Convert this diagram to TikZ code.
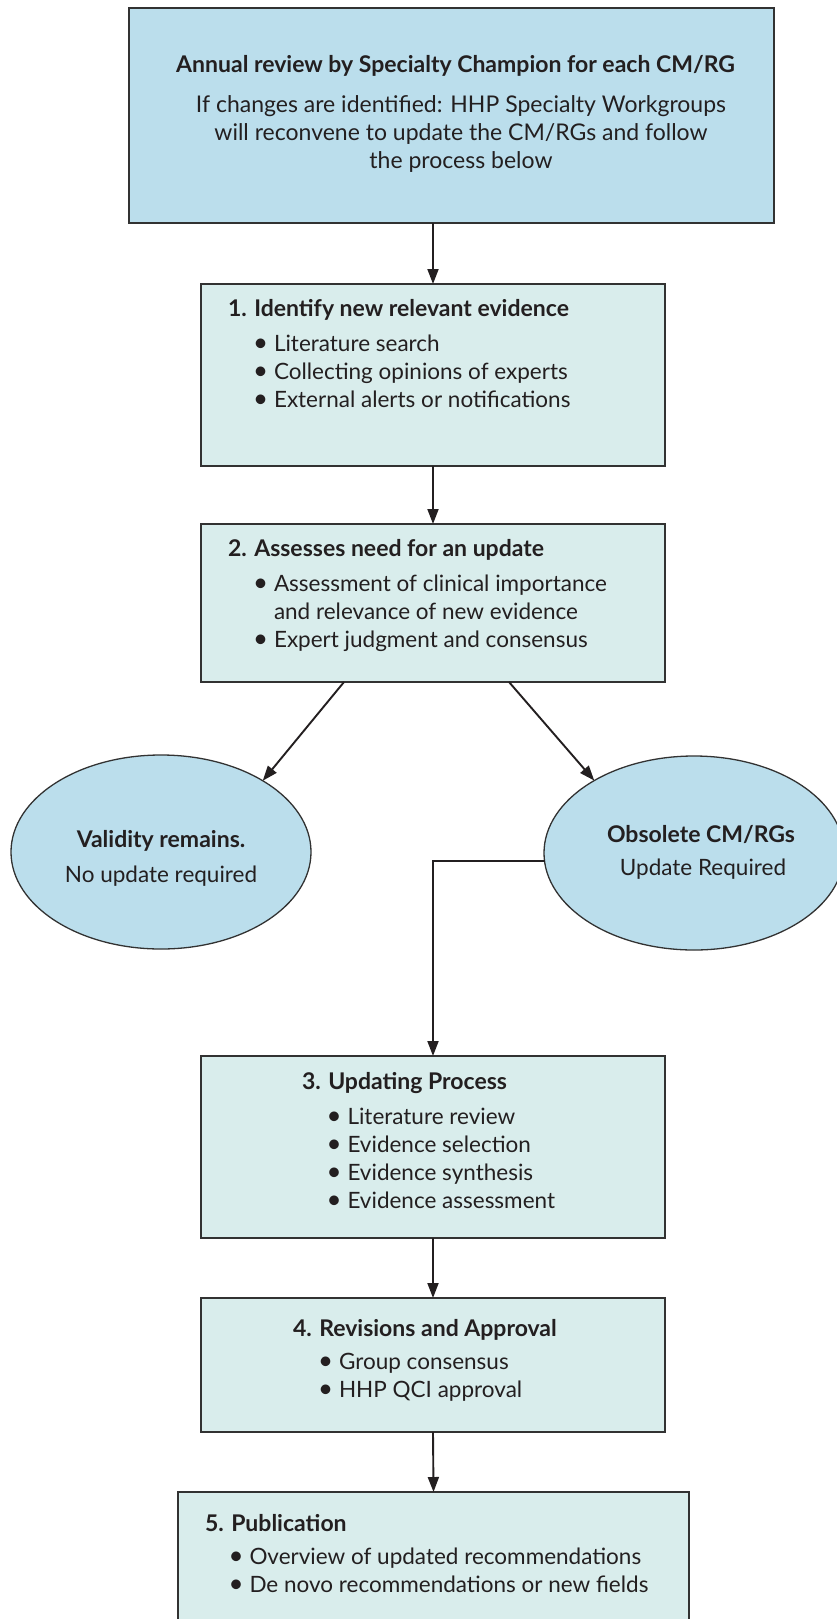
\documentclass[tikz,border=0pt]{standalone}
\usepackage{fontspec}
\setmainfont{Lato}
\usetikzlibrary{arrows.meta,shapes.geometric}
\definecolor{boxblue}{RGB}{187,222,236}
\definecolor{boxteal}{RGB}{217,237,236}
\definecolor{edgec}{RGB}{50,50,50}
\definecolor{ink}{RGB}{35,31,32}
\newcommand{\bl}{\makebox[21pt][l]{\scalebox{1.15}{\textbullet}}}
\newcommand{\hd}{\fontsize{23}{28}\selectfont\bfseries}
\begin{document}
\begin{tikzpicture}[x=1pt,y=-1pt,
  font=\fontsize{22.5}{28}\selectfont, text=ink,
  panel/.style={rectangle, draw=edgec, line width=1.3pt, inner sep=0pt, outer sep=0pt},
  oval/.style={ellipse, draw=edgec, line width=1.3pt, fill=boxblue, inner sep=0pt, outer sep=0pt, minimum width=300pt, minimum height=194pt},
  txt/.style={inner sep=0pt, outer sep=0pt},
  arr/.style={draw=ink, line width=1.9pt, -{Triangle[length=15pt,width=11pt]}}]
\clip (0,0) rectangle (837,1619);
\useasboundingbox (0,0) rectangle (837,1619);
% boxes
\node[panel, fill=boxblue, minimum width=645pt, minimum height=215pt] (top) at (451.5,115.5) {};
\node[panel, fill=boxteal, minimum width=464pt, minimum height=182pt] (b1) at (433,375) {};
\node[panel, fill=boxteal, minimum width=464pt, minimum height=158pt] (b2) at (433,603) {};
\node[oval] (valid) at (161,852) {};
\node[oval] (obs) at (694,853) {};
\node[panel, fill=boxteal, minimum width=464pt, minimum height=182pt] (b3) at (433,1147) {};
\node[panel, fill=boxteal, minimum width=464pt, minimum height=134pt] (b4) at (433,1365) {};
\node[panel, fill=boxteal, minimum width=511pt, minimum height=160pt] (b5) at (433.5,1572) {};
% top text
\node[txt, anchor=base] (topt) at (455.5,72) {\hd Annual review by Specialty Champion for each CM/RG};
\node[txt, anchor=base, font=\fontsize{23}{28}\selectfont] (topl) at (461,112) {\begin{tabular}[t]{@{}c@{}}If changes are identified: HHP Specialty Workgroups\\ will reconvene to update the CM/RGs and follow\\ the process below\end{tabular}};
% box 1
\node[txt, anchor=base west] (b1t) at (228,316) {\hd 1. Identify new relevant evidence};
\node[txt, anchor=base west] (b1l) at (253,351) {\begin{tabular}[t]{@{}l@{}}\bl Literature search\\ \bl Collecting opinions of experts\\ \bl External alerts or notifications\end{tabular}};
% box 2
\node[txt, anchor=base west] (b2t) at (228,556) {\hd 2. Assesses need for an update};
\node[txt, anchor=base west] (b2l) at (253,591) {\begin{tabular}[t]{@{}l@{}}\bl Assessment of clinical importance\\ \hspace*{21pt}and relevance of new evidence\\ \bl Expert judgment and consensus\end{tabular}};
% ellipses text
\node[txt, anchor=base] (validt) at (161,847) {\hd Validity remains.};
\node[txt, anchor=base] (validl) at (161,882) {No update required};
\node[txt, anchor=base] (obst) at (701,842) {\hd Obsolete CM/RGs};
\node[txt, anchor=base] (obsl) at (703,875) {Update Required};
% box 3
\node[txt, anchor=base west] (b3t) at (302,1089) {\hd 3. Updating Process};
\node[txt, anchor=base west] (b3l) at (326.5,1124) {\begin{tabular}[t]{@{}l@{}}\bl Literature review\\ \bl Evidence selection\\ \bl Evidence synthesis\\ \bl Evidence assessment\end{tabular}};
% box 4
\node[txt, anchor=base west] (b4t) at (293,1336) {\hd 4. Revisions and Approval};
\node[txt, anchor=base west] (b4l) at (318,1369) {\begin{tabular}[t]{@{}l@{}}\bl Group consensus\\ \bl HHP QCI approval\end{tabular}};
% box 5
\node[txt, anchor=base west] (b5t) at (205,1531) {\hd 5. Publication};
\node[txt, anchor=base west] (b5l) at (228.5,1564) {\begin{tabular}[t]{@{}l@{}}\bl Overview of updated recommendations\\ \bl De novo recommendations or new fields\end{tabular}};
% connectors
\draw[arr] (b1.north |- top.south) -- (b1.north);
\draw[arr] (b1.south) -- (b2.north);
\draw[arr] ([xshift=-89pt]b2.south) -- (valid.35);
\draw[arr] ([xshift=76pt]b2.south) -- (obs.144);
\draw[arr] (obs.183) -| (b3.north);
\draw[arr] (b3.south) -- (b4.north);
\draw[arr] (b4.south) -- (b5.north);
\end{tikzpicture}
\end{document}
